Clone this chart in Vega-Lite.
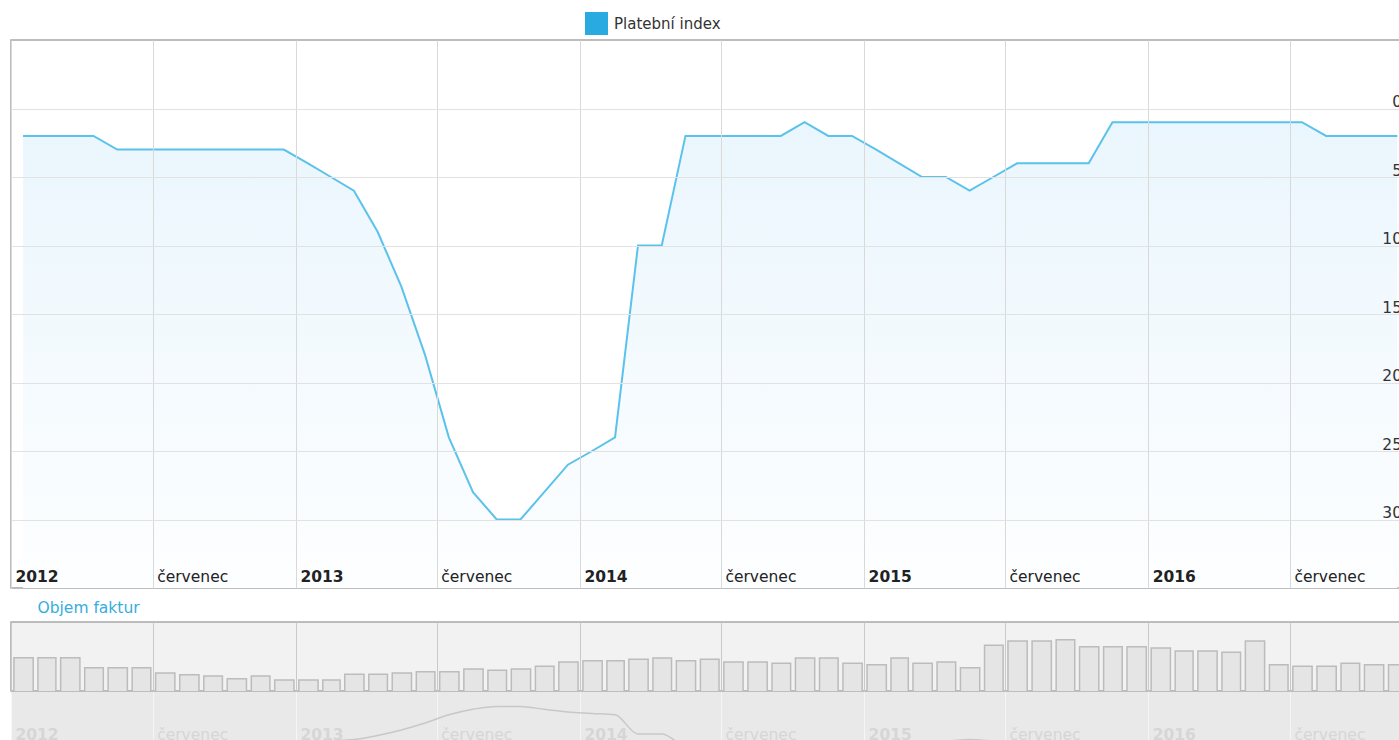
{
  "$schema": "https://vega.github.io/schema/vega-lite/v6.json",
  "padding": {"left": 10, "top": 11, "right": 0, "bottom": 0},
  "background": "white",
  "spacing": 0,
  "resolve": {"scale": {"fill": "independent", "stroke": "independent"}, "legend": {"fill": "independent", "stroke": "independent"}},
  "config": {
    "font": "DejaVu Sans",
    "view": {"stroke": "#a8a8a8", "strokeWidth": 1.5},
    "axis": {"labelFont": "DejaVu Sans"}
  },
  "datasets": {
    "d": [
      {"month": "2012-01-01", "pi": 2, "obj": 69.7},
      {"month": "2012-02-01", "pi": 2, "obj": 69.7},
      {"month": "2012-03-01", "pi": 2, "obj": 69.7},
      {"month": "2012-04-01", "pi": 2, "obj": 61.3},
      {"month": "2012-05-01", "pi": 3, "obj": 61.3},
      {"month": "2012-06-01", "pi": 3, "obj": 61.3},
      {"month": "2012-07-01", "pi": 3, "obj": 56.8},
      {"month": "2012-08-01", "pi": 3, "obj": 55.3},
      {"month": "2012-09-01", "pi": 3, "obj": 54.2},
      {"month": "2012-10-01", "pi": 3, "obj": 51.9},
      {"month": "2012-11-01", "pi": 3, "obj": 54.2},
      {"month": "2012-12-01", "pi": 3, "obj": 50.8},
      {"month": "2013-01-01", "pi": 4, "obj": 50.8},
      {"month": "2013-02-01", "pi": 5, "obj": 50.8},
      {"month": "2013-03-01", "pi": 6, "obj": 55.7},
      {"month": "2013-04-01", "pi": 9, "obj": 55.7},
      {"month": "2013-05-01", "pi": 13, "obj": 56.8},
      {"month": "2013-06-01", "pi": 18, "obj": 57.9},
      {"month": "2013-07-01", "pi": 24, "obj": 57.9},
      {"month": "2013-08-01", "pi": 28, "obj": 60.2},
      {"month": "2013-09-01", "pi": 30, "obj": 59.1},
      {"month": "2013-10-01", "pi": 30, "obj": 60.2},
      {"month": "2013-11-01", "pi": 28, "obj": 62.5},
      {"month": "2013-12-01", "pi": 26, "obj": 66.1},
      {"month": "2014-01-01", "pi": 25, "obj": 67.2},
      {"month": "2014-02-01", "pi": 24, "obj": 67.2},
      {"month": "2014-03-01", "pi": 10, "obj": 68.4},
      {"month": "2014-04-01", "pi": 10, "obj": 69.5},
      {"month": "2014-05-01", "pi": 2, "obj": 67.2},
      {"month": "2014-06-01", "pi": 2, "obj": 68.4},
      {"month": "2014-07-01", "pi": 2, "obj": 66.1},
      {"month": "2014-08-01", "pi": 2, "obj": 66.1},
      {"month": "2014-09-01", "pi": 2, "obj": 65.0},
      {"month": "2014-10-01", "pi": 1, "obj": 69.5},
      {"month": "2014-11-01", "pi": 2, "obj": 69.5},
      {"month": "2014-12-01", "pi": 2, "obj": 65.0},
      {"month": "2015-01-01", "pi": 3, "obj": 63.8},
      {"month": "2015-02-01", "pi": 4, "obj": 69.5},
      {"month": "2015-03-01", "pi": 5, "obj": 65.0},
      {"month": "2015-04-01", "pi": 5, "obj": 66.1},
      {"month": "2015-05-01", "pi": 6, "obj": 61.3},
      {"month": "2015-06-01", "pi": 5, "obj": 80.3},
      {"month": "2015-07-01", "pi": 4, "obj": 83.9},
      {"month": "2015-08-01", "pi": 4, "obj": 83.9},
      {"month": "2015-09-01", "pi": 4, "obj": 85.0},
      {"month": "2015-10-01", "pi": 4, "obj": 79.1},
      {"month": "2015-11-01", "pi": 1, "obj": 79.1},
      {"month": "2015-12-01", "pi": 1, "obj": 79.1},
      {"month": "2016-01-01", "pi": 1, "obj": 78.0},
      {"month": "2016-02-01", "pi": 1, "obj": 75.4},
      {"month": "2016-03-01", "pi": 1, "obj": 75.4},
      {"month": "2016-04-01", "pi": 1, "obj": 74.3},
      {"month": "2016-05-01", "pi": 1, "obj": 83.9},
      {"month": "2016-06-01", "pi": 1, "obj": 63.8},
      {"month": "2016-07-01", "pi": 1, "obj": 62.5},
      {"month": "2016-08-01", "pi": 2, "obj": 62.5},
      {"month": "2016-09-01", "pi": 2, "obj": 65.0},
      {"month": "2016-10-01", "pi": 2, "obj": 63.8},
      {"month": "2016-11-01", "pi": 2, "obj": 63.8}
    ]
  },
  "vconcat": [
    {
      "width": 1398,
      "height": 548,
      "data": {"name": "d"},
      "encoding": {
        "x": {
          "field": "month", "timeUnit": "utcyearmonth", "type": "temporal", "bandPosition": 0.5,
          "scale": {"type": "utc", "domain": [{"year": 2012, "month": 1, "date": 1, "utc": true}, {"year": 2016, "month": 12, "date": 1, "utc": true}]},
          "axis": {
            "title": null, "domain": false, "ticks": false, "grid": true, "gridColor": "#d9d9d9", "zindex": 1,
            "tickCount": {"interval": "month", "step": 6},
            "labelExpr": "utcmonth(datum.value) == 0 ? utcFormat(datum.value, '%Y') : 'červenec'",
            "labelFontWeight": {"condition": {"test": "utcmonth(datum.value) == 0", "value": "bold"}, "value": "normal"},
            "labelAlign": "left", "labelBaseline": "alphabetic", "labelPadding": -7, "labelOffset": 4,
            "labelFontSize": 15.5, "labelColor": "#222", "labelFlush": false, "labelOverlap": false, "labelBound": false
          }
        }
      },
      "layer": [
        {
          "mark": {"type": "area",
            "color": {"gradient": "linear", "x1": 0, "y1": 0, "x2": 0, "y2": 1,
              "stops": [{"offset": 0, "color": "#eaf6fd"}, {"offset": 1, "color": "#fdfeff"}]}},
          "encoding": {
            "y": {"field": "pi", "type": "quantitative",
              "scale": {"domain": [-5, 35], "reverse": true, "nice": false, "zero": false},
              "axis": {"orient": "right", "values": [0, 5, 10, 15, 20, 25, 30], "title": null, "zindex": 1,
                "grid": true, "gridColor": "#e2e2e2", "domain": false, "ticks": false,
                "labelAlign": "right", "labelPadding": -7.5, "labelBaseline": "alphabetic", "labelOffset": -2,
                "labelFontSize": 15.5, "labelColor": "#333"}},
            "y2": {"datum": 35}
          }
        },
        {
          "mark": {"type": "line", "strokeWidth": 2},
          "encoding": {
            "y": {"field": "pi", "type": "quantitative"},
            "stroke": {"datum": "Platební index", "scale": {"range": ["#5bc2ec"]},
              "legend": {"orient": "none", "legendX": 574, "legendY": -28, "title": null,
                "symbolType": "square", "symbolSize": 529, "symbolStrokeWidth": 0,
                "labelFontSize": 15, "labelColor": "#333", "labelOffset": 6, "labelFont": "DejaVu Sans",
                "encode": {"symbols": {"update": {"fill": {"value": "#29abe2"}, "stroke": {"value": "#29abe2"}, "opacity": {"value": 1}}}}}}
          }
        }
      ]
    },
    {
      "width": 1398,
      "height": 32,
      "data": {"values": [{"t": ""}]},
      "view": {"fill": "white"},
      "mark": {"type": "text"},
      "encoding": {
        "text": {"field": "t"},
        "fill": {"datum": "Objem faktur", "scale": {"range": ["#36ade0"]},
          "legend": {"orient": "none", "legendX": 7, "legendY": 11, "title": null,
            "symbolSize": 0, "symbolOpacity": 0, "symbolStrokeWidth": 0,
            "labelFontSize": 15.5, "labelColor": "#36ade0", "labelOffset": 4, "labelFont": "DejaVu Sans"}}
      }
    },
    {
      "width": 1398,
      "height": 69,
      "data": {"name": "d"},
      "view": {"fill": "#f2f2f2"},
      "mark": {"type": "bar", "fill": "#e5e5e5", "stroke": "#bcbcbc", "strokeWidth": 1.5, "clip": true,
        "width": {"band": 0.84}},
      "encoding": {
        "x": {
          "field": "month", "timeUnit": "utcyearmonth", "type": "temporal",
          "scale": {"type": "utc", "domain": [{"year": 2012, "month": 1, "date": 1, "utc": true}, {"year": 2016, "month": 12, "date": 1, "utc": true}]},
          "axis": {"title": null, "domain": false, "ticks": false, "labels": false, "grid": true, "gridColor": "#c9c9c9",
            "tickCount": {"interval": "month", "step": 6}}
        },
        "y": {"field": "obj", "type": "quantitative", "scale": {"domain": [41.5, 100], "zero": false, "nice": false}, "axis": null},
        "y2": {"datum": 0}
      }
    },
    {
      "width": 1398,
      "height": 60,
      "data": {"name": "d"},
      "view": {"fill": "#e9e9e9", "stroke": null},
      "mark": {"type": "line", "interpolate": "monotone", "color": "#c8c8c8", "strokeWidth": 1.5, "clip": true},
      "encoding": {
        "x": {
          "field": "month", "timeUnit": "utcyearmonth", "type": "temporal", "bandPosition": 0.5,
          "scale": {"type": "utc", "domain": [{"year": 2012, "month": 1, "date": 1, "utc": true}, {"year": 2016, "month": 12, "date": 1, "utc": true}]},
          "axis": {
            "title": null, "domain": false, "ticks": false, "grid": true, "gridColor": "#f5f5f5",
            "tickCount": {"interval": "month", "step": 6},
            "labelExpr": "utcmonth(datum.value) == 0 ? utcFormat(datum.value, '%Y') : 'červenec'",
            "labelFontWeight": {"condition": {"test": "utcmonth(datum.value) == 0", "value": "bold"}, "value": "normal"},
            "labelAlign": "left", "labelBaseline": "alphabetic", "labelPadding": -13, "labelOffset": 4,
            "labelFontSize": 15.5, "labelColor": "#d6d6d6", "labelFlush": false, "labelOverlap": false, "labelBound": false
          }
        },
        "y": {"field": "pi", "type": "quantitative", "scale": {"domain": [-3, 40.5], "zero": false, "nice": false}, "axis": null}
      }
    }
  ]
}
